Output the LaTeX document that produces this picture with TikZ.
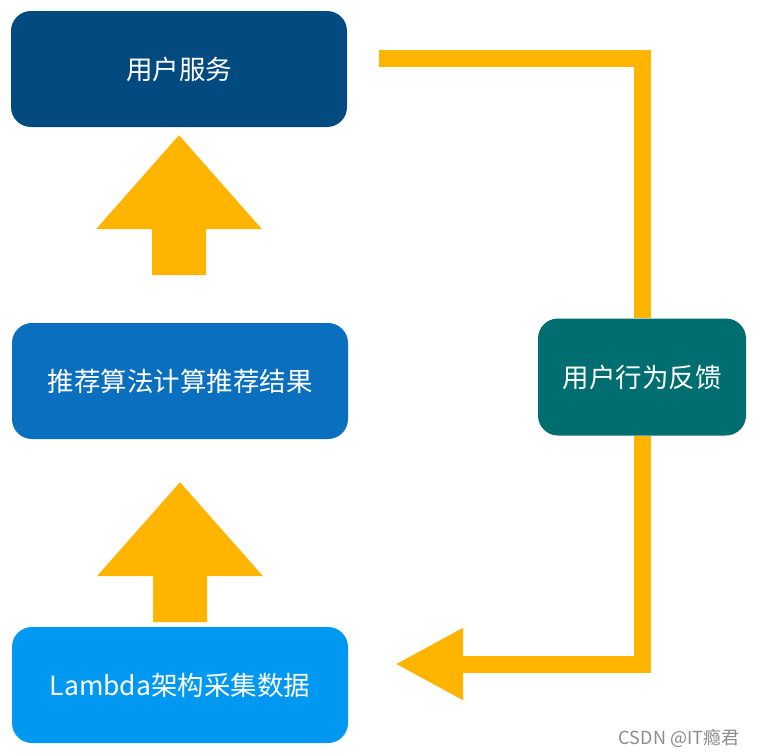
\documentclass[tikz,border=0pt]{standalone}
\usepackage{fontspec}
\setmainfont{Noto Sans CJK SC}
\usepackage{tikz}
\usetikzlibrary{arrows.meta, calc}
\definecolor{usrblue}{RGB}{3,74,128}
\definecolor{algblue}{RGB}{10,111,191}
\definecolor{lamblue}{RGB}{0,152,240}
\definecolor{fbteal}{RGB}{0,110,112}
\definecolor{gold}{RGB}{255,180,0}

\begin{document}
\begin{tikzpicture}[x=1pt, y=-1pt,
  box/.style={rounded corners=20pt, minimum width=336pt, minimum height=116pt, text=white, font=\fontsize{26.5}{30}\selectfont},
  feed/.style={draw=gold, line width=17pt, line join=miter},
  blockarr/.style={fill=gold}
]

\fill[white] (0,0) rectangle (759,755);

\node[box, fill=usrblue] (usr) at (179,69) {用户服务};
\node[box, fill=algblue] (alg) at (180,381) {推荐算法计算推荐结果};
\node[box, fill=lamblue] (lam) at (180,685) {Lambda架构采集数据};
\node[box, fill=fbteal, minimum width=208pt, minimum height=117pt] (fb) at (642,377) {用户行为反馈};

% upward block arrows
\coordinate (t1) at ($(usr.south)+(0,8)$);
\coordinate (t2) at ($(alg.south)+(0,43)$);
\foreach \t in {t1,t2}
  \fill[blockarr] (\t) -- ++(83,94) -- ++(-56,0) -- ++(0,46) -- ++(-54,0) -- ++(0,-46) -- ++(-56,0) -- cycle;

% feedback loop
\coordinate (fbstart) at (379,58);
\coordinate (fbend) at (395,664);
\draw[feed] (fbstart) -| (fb.north);
\draw[feed, -{Triangle[length=68pt, width=67pt]}] (fb.south) |- (fbend);

\node[text=black!45, font=\fontsize{18}{20}\selectfont] (mark) at (679,738) {CSDN @IT瘾君};

\end{tikzpicture}
\end{document}
